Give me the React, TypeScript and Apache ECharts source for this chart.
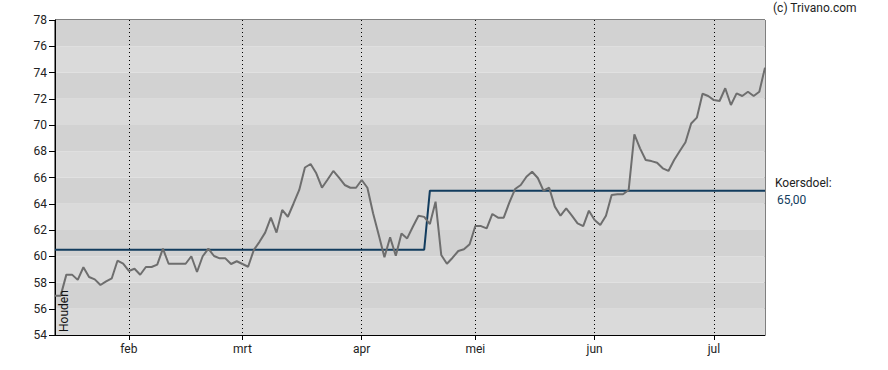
import React, { useEffect, useRef } from "react";
import * as echarts from "echarts";

// Trading days (Euronext 2025) from 15 Jan to 14 Jul
const startDate = "2025-01-15";
const endDate = "2025-07-14";
const holidays = ["2025-04-18", "2025-04-21", "2025-05-01"];
const monthNames = ["jan", "feb", "mrt", "apr", "mei", "jun", "jul", "aug", "sep", "okt", "nov", "dec"];

function buildTradingDays(): string[] {
  const out: string[] = [];
  const d = new Date(startDate + "T12:00:00Z");
  const end = new Date(endDate + "T12:00:00Z");
  while (d <= end) {
    const wd = d.getUTCDay();
    const s = d.toISOString().slice(0, 10);
    if (wd !== 0 && wd !== 6 && holidays.indexOf(s) < 0) out.push(s);
    d.setUTCDate(d.getUTCDate() + 1);
  }
  return out;
}
const categories = buildTradingDays();

const prices = [
  57.0, 57.0, 58.6, 58.6, 58.2, 59.16, 58.42, 58.24, 57.81, 58.09,
  58.32, 59.66, 59.43, 58.88, 59.05, 58.59, 59.18, 59.18, 59.36, 60.58,
  59.43, 59.43, 59.43, 59.43, 60.0, 58.8, 60.0, 60.58, 60.02, 59.84,
  59.84, 59.41, 59.62, 59.41, 59.2, 60.48, 61.1, 61.8, 62.94, 61.8,
  63.53, 63.01, 64.02, 65.05, 66.76, 67.03, 66.32, 65.22, 65.85, 66.5,
  65.99, 65.43, 65.22, 65.22, 65.81, 65.22, 63.27, 61.62, 59.92, 61.44,
  60.04, 61.74, 61.36, 62.25, 63.09, 63.0, 62.45, 64.16, 60.1, 59.43,
  59.89, 60.4, 60.53, 60.91, 62.3, 62.3, 62.12, 63.22, 62.94, 62.94,
  64.1, 65.12, 65.43, 66.06, 66.44, 65.96, 65.0, 65.22, 63.78, 63.09,
  63.65, 63.09, 62.5, 62.3, 63.47, 62.76, 62.38, 63.09, 64.67, 64.72,
  64.72, 65.05, 69.29, 68.22, 67.33, 67.25, 67.13, 66.7, 66.5, 67.33,
  68.02, 68.68, 70.11, 70.56, 72.38, 72.21, 71.9, 71.83, 72.8, 71.52,
  72.41, 72.21, 72.53, 72.21, 72.53, 74.37,
];

// Koersdoel (price target) steps: value holds from the given index onward
const targetStepStart = [0, 66];
const targetStepValue = [60.5, 65.0];

const targetLabel = "Koersdoel:";
const targetValueLabel = "65,00";
const adviceLabel = "Houden";
const copyright = "(c) Trivano.com";

const yMin = 54;
const yMax = 78;
const yInterval = 2;

export default function App() {
  const ref = useRef<HTMLDivElement>(null);

  useEffect(() => {
    if (!ref.current) return;
    const chart = echarts.init(ref.current, undefined, { renderer: "svg" });

    const target = categories.map((_, i) => {
      let v = targetStepValue[0];
      for (let k = 0; k < targetStepStart.length; k++) {
        if (i >= targetStepStart[k]) v = targetStepValue[k];
      }
      return v;
    });

    const monthStart = new Set<number>();
    for (let i = 1; i < categories.length; i++) {
      if (categories[i].slice(5, 7) !== categories[i - 1].slice(5, 7)) monthStart.add(i);
    }
    const isMonth = (idx: number) => monthStart.has(idx);

    const font = "Roboto, Arial, sans-serif";

    chart.setOption({
      animation: false,
      grid: {
        left: 55,
        right: 123,
        top: 20,
        bottom: 35,
        show: true,
        borderColor: "#000",
        borderWidth: 1,
        backgroundColor: "transparent",
      },
      xAxis: {
        type: "category",
        data: categories,
        boundaryGap: false,
        axisLine: { show: true, lineStyle: { color: "#000", width: 1 } },
        axisTick: { show: true, interval: isMonth, length: 5, lineStyle: { color: "#000" } },
        axisLabel: {
          interval: isMonth,
          formatter: (v: string) => monthNames[parseInt(v.slice(5, 7), 10) - 1],
          color: "#222",
          fontSize: 12,
          fontFamily: font,
          margin: 8,
        },
        splitLine: {
          show: true,
          interval: isMonth,
          lineStyle: { color: "#000", type: [1, 3], width: 1 },
        },
      },
      yAxis: {
        type: "value",
        min: yMin,
        max: yMax,
        interval: yInterval,
        axisLine: { show: true, lineStyle: { color: "#000", width: 1 } },
        axisTick: { show: true, length: 6, lineStyle: { color: "#000" } },
        axisLabel: { color: "#222", fontSize: 12, fontFamily: font, margin: 8 },
        splitLine: { show: false },
        splitArea: { show: true, areaStyle: { color: ["#dadada", "#d2d2d2"] } },
      },
      series: [
        {
          name: "Koersdoel",
          type: "line",
          data: target,
          symbol: "none",
          lineStyle: { color: "#123c5e", width: 2 },
          z: 2,
        },
        {
          name: "Koers",
          type: "line",
          data: prices,
          symbol: "none",
          lineStyle: { color: "#6e6e6e", width: 2 },
          z: 3,
        },
      ],
      graphic: [
        {
          type: "text",
          left: 773,
          top: 2,
          style: { text: copyright, fill: "#222", font: `12px ${font}` },
        },
        {
          type: "text",
          x: 775,
          y: 183,
          style: { text: targetLabel, fill: "#222", font: `12px ${font}`, textVerticalAlign: "middle" },
        },
        {
          type: "text",
          x: 777,
          y: 200,
          style: { text: targetValueLabel, fill: "#123c5e", font: `12px ${font}`, textVerticalAlign: "middle" },
        },
        {
          type: "text",
          x: 63.5,
          y: 332,
          rotation: Math.PI / 2,
          style: {
            text: adviceLabel,
            fill: "#111",
            font: `12px ${font}`,
            textAlign: "left",
            textVerticalAlign: "middle",
          },
          z: 10,
        },
      ],
    });

    return () => chart.dispose();
  }, []);

  return (
    <div
      ref={ref}
      style={{ position: "fixed", left: 0, top: 0, width: 888, height: 370, background: "#fff" }}
    />
  );
}
